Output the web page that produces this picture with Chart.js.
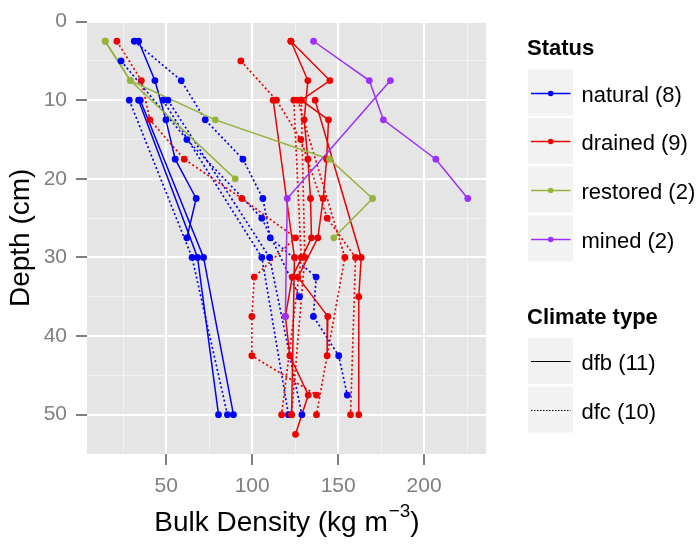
<!DOCTYPE html>
<html lang="en">
<head>
<meta charset="UTF-8">
<title>Bulk density profiles</title>
<script src="https://cdn.jsdelivr.net/npm/chart.js"></script>
<style>
  html, body { margin: 0; padding: 0; background: #fff; }
  #wrap { width: 700px; height: 548px; position: relative; }
</style>
</head>
<body>
<div id="wrap"><canvas id="bdChart"></canvas></div>
<script>
// each profile: [bulk density (kg m-3), depth (cm)]
const natural1 = [[31.4, 2.5], [58.7, 7.5], [72.7, 12.5], [94.6, 17.5], [106.2, 22.5], [110.5, 27.5], [137.2, 32.5], [135.6, 37.5], [150.3, 42.5], [155.3, 47.5]];
const natural2 = [[33.9, 2.5], [43.4, 7.5], [49.8, 12.5], [55.2, 17.5], [67.4, 22.5], [62.0, 27.5]];
const natural3 = [[23.7, 5], [62.0, 15], [105.6, 25], [127.5, 35]];
const natural4 = [[28.5, 10], [65.0, 30], [85.6, 50]];
const natural5 = [[33.9, 10], [68.2, 30], [80.4, 50]];
const natural6 = [[34.9, 10], [71.7, 30], [89.1, 50]];
const natural7 = [[48.1, 10], [105.6, 30], [121.1, 50]];
const natural8 = [[51.0, 10], [110.1, 30], [128.9, 50]];

const drained1 = [[21.3, 2.5], [35.5, 7.5], [40.5, 12.5], [60.5, 17.5], [94.0, 22.5], [125.2, 27.5], [101.2, 32.5], [99.8, 37.5], [99.8, 42.5], [137.4, 47.5]];
const drained2 = [[122.5, 2.5], [132.4, 7.5], [130.2, 12.5], [132.4, 17.5], [133.9, 22.5], [134.5, 27.5], [123.3, 32.5], [119.3, 37.5], [121.9, 42.5], [132.6, 47.5], [125.2, 52.5]];
const drained3 = [[122.5, 2.5], [145.2, 7.5], [128.5, 10], [144.4, 12.5], [143.3, 17.5], [141.3, 22.5], [138.2, 27.5], [126.6, 32.5], [144.0, 37.5], [143.6, 42.5]];
const drained4 = [[93.4, 5], [114.1, 10], [128.3, 15], [143.6, 25], [160.1, 30], [157.2, 50]];
const drained5 = [[112.2, 10], [124.6, 30], [122.9, 50]];
const drained6 = [[124.2, 10], [128.5, 30], [117.1, 50]];
const drained7 = [[126.5, 10], [153.9, 30], [137.4, 50]];
const drained8 = [[136.6, 10], [163.4, 30], [162.0, 35], [162.0, 50]];
const drained9 = [[128.5, 10], [130.6, 30], [122.9, 50]];

const restored1 = [[14.5, 2.5], [29.1, 7.5], [78.5, 12.5], [145.0, 17.5], [170.0, 22.5], [147.5, 27.5]];
const restored2 = [[14.5, 2.5], [29.1, 7.5], [90.1, 20]];

const mined1 = [[135.7, 2.5], [168.1, 7.5], [176.3, 12.5], [206.8, 17.5], [225.4, 22.5]];
const mined2 = [[180.4, 7.5], [120.4, 22.5], [119.3, 37.5]];

// profile, status, climate type
const profiles = [
    [natural1, 'natural', 'dfc'], [natural2, 'natural', 'dfb'], [natural3, 'natural', 'dfc'],
    [natural4, 'natural', 'dfc'], [natural5, 'natural', 'dfb'], [natural6, 'natural', 'dfb'],
    [natural7, 'natural', 'dfc'], [natural8, 'natural', 'dfc'],
    [drained1, 'drained', 'dfc'], [drained2, 'drained', 'dfb'], [drained3, 'drained', 'dfb'],
    [drained4, 'drained', 'dfc'], [drained5, 'drained', 'dfb'], [drained6, 'drained', 'dfc'],
    [drained7, 'drained', 'dfc'], [drained8, 'drained', 'dfb'], [drained9, 'drained', 'dfc'],
    [restored1, 'restored', 'dfb'], [restored2, 'restored', 'dfb'],
    [mined1, 'mined', 'dfb'], [mined2, 'mined', 'dfb']
];

const statusNames = ['natural', 'drained', 'restored', 'mined'];
const statusCounts = [8, 9, 2, 2];
const statusColors = ['#0000FF', '#EE0000', '#94B43B', '#9B30FF'];
const climateNames = ['dfb', 'dfc'];
const climateCounts = [11, 10];

const xTicks = [25, 50, 75, 100, 125, 150, 175, 200, 225];
const xLabelled = [50, 100, 150, 200];
const yTicks = [0, 5, 10, 15, 20, 25, 30, 35, 40, 45, 50];
const yLabelled = [0, 10, 20, 30, 40, 50];

const FONT = '"Liberation Sans", Arial, Helvetica, sans-serif';
const DOTTED = [2, 2.5];

const datasets = [];
profiles.forEach(([pts, status, climate]) => {
    const i = statusNames.indexOf(status);
    const col = statusColors[i];
    const data = pts.map(p => ({ x: p[0], y: p[1] }));
    // lines under all points, like geom_line + geom_point
    datasets.push({
        data: data,
        showLine: true,
        borderColor: col,
        borderWidth: climate === 'dfc' ? 1.7 : 1.5,
        borderDash: climate === 'dfc' ? DOTTED : [],
        pointRadius: 0,
        pointHoverRadius: 0,
        tension: 0,
        order: 20 - i
    });
    datasets.push({
        data: data,
        showLine: false,
        pointRadius: 3.4,
        pointHoverRadius: 3.4,
        pointBackgroundColor: col,
        pointBorderWidth: 0,
        order: 10 - i
    });
});

const panelAndLegend = {
    id: 'panelAndLegend',
    beforeDraw(chart) {
        const { ctx, chartArea: a } = chart;
        ctx.save();
        ctx.fillStyle = '#E5E5E5';
        ctx.fillRect(a.left, a.top, a.right - a.left, a.bottom - a.top);
        ctx.restore();
    },
    afterDraw(chart) {
        const { ctx, chartArea: a } = chart;
        ctx.save();
        ctx.fillStyle = '#000';

        // x axis title with superscript
        const main = 'Bulk Density (kg m';
        const sup = '\u22123';
        ctx.font = '28px ' + FONT;
        const w1 = ctx.measureText(main).width;
        const w3 = ctx.measureText(')').width;
        ctx.font = '19px ' + FONT;
        const w2 = ctx.measureText(sup).width;
        let x0 = (a.left + a.right) / 2 - (w1 + w2 + w3) / 2;
        ctx.textBaseline = 'alphabetic';
        ctx.textAlign = 'left';
        ctx.font = '28px ' + FONT;
        ctx.fillText(main, x0, 531);
        ctx.font = '19px ' + FONT;
        ctx.fillText(sup, x0 + w1 + 1, 517);
        ctx.font = '28px ' + FONT;
        ctx.fillText(')', x0 + w1 + w2 + 1, 531);

        // y axis title
        ctx.save();
        ctx.translate(29, (a.top + a.bottom) / 2);
        ctx.rotate(-Math.PI / 2);
        ctx.textAlign = 'center';
        ctx.fillText('Depth (cm)', 0, 0);
        ctx.restore();

        // legend: status
        const boxX = 528, boxW = 45, boxH = 46;
        ctx.font = 'bold 22px ' + FONT;
        ctx.fillText('Status', 527, 55);
        const statusTops = [69.5, 118, 166.5, 215.5];
        statusNames.forEach((name, i) => {
            const top = statusTops[i];
            const cy = Math.round(top + boxH / 2) + 0.5;
            ctx.fillStyle = '#F2F2F2';
            ctx.fillRect(boxX, top, boxW, boxH);
            ctx.strokeStyle = statusColors[i];
            ctx.lineWidth = 1.5;
            ctx.beginPath();
            ctx.moveTo(531, cy);
            ctx.lineTo(570.5, cy);
            ctx.stroke();
            ctx.fillStyle = statusColors[i];
            ctx.beginPath();
            ctx.arc(550.7, cy, 2.8, 0, Math.PI * 2);
            ctx.fill();
            ctx.fillStyle = '#000';
            ctx.font = '22px ' + FONT;
            ctx.fillText(name + ' (' + statusCounts[i] + ')', 581.5, cy + 8);
        });

        // legend: climate type
        ctx.font = 'bold 22px ' + FONT;
        ctx.fillText('Climate type', 527, 324);
        const climateTops = [338, 386.5];
        climateNames.forEach((name, i) => {
            const top = climateTops[i];
            const cy = Math.round(top + boxH / 2) + 0.5;
            ctx.fillStyle = '#F2F2F2';
            ctx.fillRect(boxX, top, boxW, boxH);
            ctx.strokeStyle = '#000';
            ctx.lineWidth = 1;
            ctx.setLineDash(i === 1 ? [1.5, 1.5] : []);
            ctx.beginPath();
            ctx.moveTo(531, cy);
            ctx.lineTo(570.5, cy);
            ctx.stroke();
            ctx.setLineDash([]);
            ctx.fillStyle = '#000';
            ctx.font = '22px ' + FONT;
            ctx.fillText(name + ' (' + climateCounts[i] + ')', 581.5, cy + 8);
        });
        ctx.restore();
    }
};

function gridOpts(labelled) {
    return {
        color: c => labelled.includes(c.tick.value) ? '#FFFFFF' : '#F2F2F2',
        lineWidth: c => labelled.includes(c.tick.value) ? 2 : 1,
        tickColor: c => labelled.includes(c.tick.value) ? '#7F7F7F' : 'rgba(0,0,0,0)',
        tickLength: 11,
        tickWidth: 2,
        drawTicks: true
    };
}

new Chart(document.getElementById('bdChart').getContext('2d'), {
    type: 'scatter',
    data: { datasets: datasets },
    options: {
        responsive: true,
        maintainAspectRatio: false,
        animation: false,
        events: [],
        layout: { padding: { top: 18, right: 214, bottom: 0, left: 0 } },
        plugins: {
            legend: { display: false },
            tooltip: { enabled: false }
        },
        scales: {
            x: {
                type: 'linear',
                min: 3.9,
                max: 236,
                afterBuildTicks: s => { s.ticks = xTicks.map(v => ({ value: v })); },
                afterFit: s => { s.height = 94; },
                border: { display: false },
                grid: gridOpts(xLabelled),
                ticks: {
                    autoSkip: false,
                    maxRotation: 0,
                    padding: 9,
                    color: '#7F7F7F',
                    font: { family: FONT, size: 21 },
                    callback: v => xLabelled.includes(v) ? String(v) : ''
                }
            },
            y: {
                type: 'linear',
                min: 0,
                max: 55,
                reverse: true,
                afterBuildTicks: s => { s.ticks = yTicks.map(v => ({ value: v })); },
                afterFit: s => { s.width = 87; },
                border: { display: false },
                grid: gridOpts(yLabelled),
                ticks: {
                    autoSkip: false,
                    padding: 9,
                    color: '#7F7F7F',
                    font: { family: FONT, size: 21 },
                    callback: v => yLabelled.includes(v) ? String(v) : ''
                }
            }
        }
    },
    plugins: [panelAndLegend]
});
</script>
</body>
</html>
